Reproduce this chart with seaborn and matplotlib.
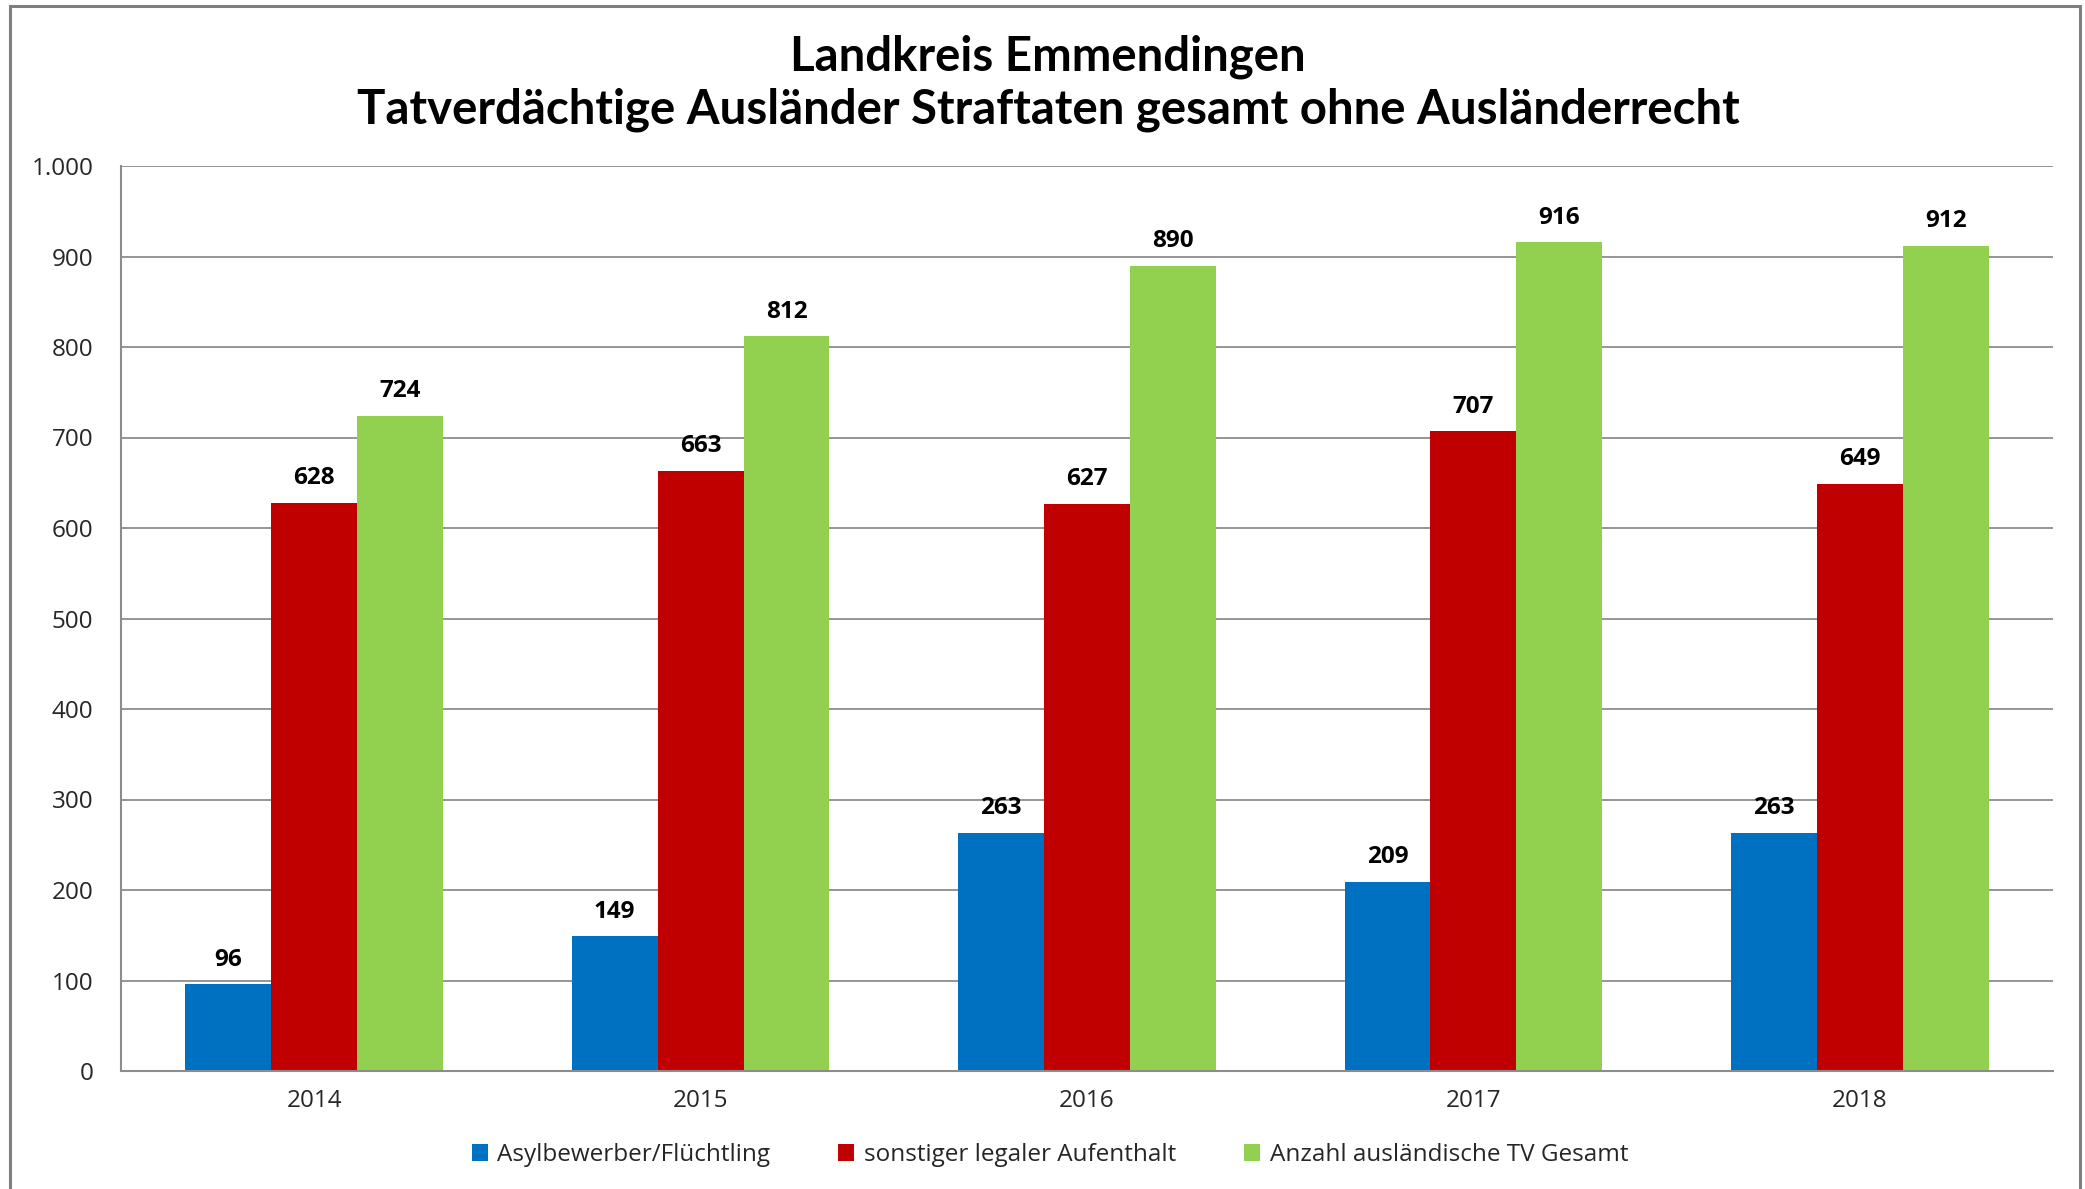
import matplotlib
matplotlib.use("Agg")
import matplotlib.pyplot as plt
import seaborn as sns
import pandas as pd
import numpy as np
from matplotlib.patches import Patch, Rectangle
from matplotlib.ticker import FuncFormatter, MultipleLocator

# ---- data ----
years = ["2014", "2015", "2016", "2017", "2018"]
asyl = [96, 149, 263, 209, 263]
legal = [628, 663, 627, 707, 649]
gesamt = [724, 812, 890, 916, 912]
series_names = ["Asylbewerber/Flüchtling", "sonstiger legaler Aufenthalt",
                "Anzahl ausländische TV Gesamt"]
colors = ["#0070C0", "#C00000", "#92D050"]
title_lines = ["Landkreis Emmendingen",
               "Tatverdächtige Ausländer Straftaten gesamt ohne Ausländerrecht"]

df = pd.DataFrame({
    "Jahr": years * 3,
    "Serie": [n for n in series_names for _ in years],
    "Wert": asyl + legal + gesamt,
})

sns.set_theme(style="white")
plt.rcParams['font.family'] = ['Open Sans', 'DejaVu Sans']

W, H = 2085, 1189
fig = plt.figure(figsize=(W / 100, H / 100), dpi=100)
fig.patch.set_facecolor("white")
ax = fig.add_axes([121 / W, (H - 1071) / H, (2053 - 121) / W, (1071 - 166) / H])

sns.barplot(data=df, x="Jahr", y="Wert", hue="Serie", hue_order=series_names,
            palette=colors, width=2 / 3, gap=0, saturation=1, ax=ax,
            legend=False, linewidth=0, edgecolor="none")

grid_c = "#8c8c8c"
fs_small = 17.5
ax.set_ylim(0, 1000)
ax.set_xlim(-0.5, 4.5)
ax.yaxis.set_major_locator(MultipleLocator(100))
ax.yaxis.set_major_formatter(FuncFormatter(lambda v, p: f"{int(v):,}".replace(",", ".")))
ax.yaxis.grid(True, color=grid_c, lw=1.3)
ax.set_axisbelow(True)
for s in ["top", "right"]:
    ax.spines[s].set_visible(False)
for s in ["left", "bottom"]:
    ax.spines[s].set_color(grid_c)
    ax.spines[s].set_linewidth(1.5)
ax.set_xlabel("")
ax.set_ylabel("")
ax.tick_params(axis="y", length=10, width=1.3, color=grid_c, pad=10,
               labelsize=fs_small, labelcolor="#262626")
ax.tick_params(axis="x", which="major", length=0, pad=13, labelsize=fs_small,
               labelcolor="#262626")
ax.set_xticks(np.arange(-0.5, 5, 1), minor=True)
ax.tick_params(axis="x", which="minor", length=10, width=1.3, color=grid_c)

for c in ax.containers:
    ax.bar_label(c, fmt="%d", padding=9, fontweight="bold", fontsize=fs_small,
                 color="black")

handles = [Patch(facecolor=c, edgecolor="none", label=n)
           for c, n in zip(colors, series_names)]
fig.legend(handles=handles, ncol=3, loc="center",
           bbox_to_anchor=(1050 / W, (H - 1155) / H), frameon=False,
           fontsize=fs_small, handlelength=0.65, handleheight=0.65,
           handletextpad=0.4, columnspacing=2.8, labelcolor="#262626")

t1 = fig.text(1048 / W, 1 - 57 / H, title_lines[0], ha="center", va="center",
              fontweight="bold", fontsize=30, color="black", family=["Lato", "DejaVu Sans"])
t2 = fig.text(1048 / W, 1 - 110 / H, title_lines[1], ha="center", va="center",
              fontweight="bold", fontsize=30, color="black", family=["Lato", "DejaVu Sans"])
fig.canvas.draw()
r = fig.canvas.get_renderer()
w = t2.get_window_extent(r).width
fs = 30 * 1383 / w
t1.set_fontsize(fs)
t2.set_fontsize(fs)

fig.patches.append(Rectangle((10 / W, -0.02), (2080 - 10) / W, (H - 6) / H + 0.02,
                             transform=fig.transFigure, fill=False,
                             edgecolor="#7f7f7f", lw=2.2))

fig.savefig("out.png", dpi=100, facecolor="white")
